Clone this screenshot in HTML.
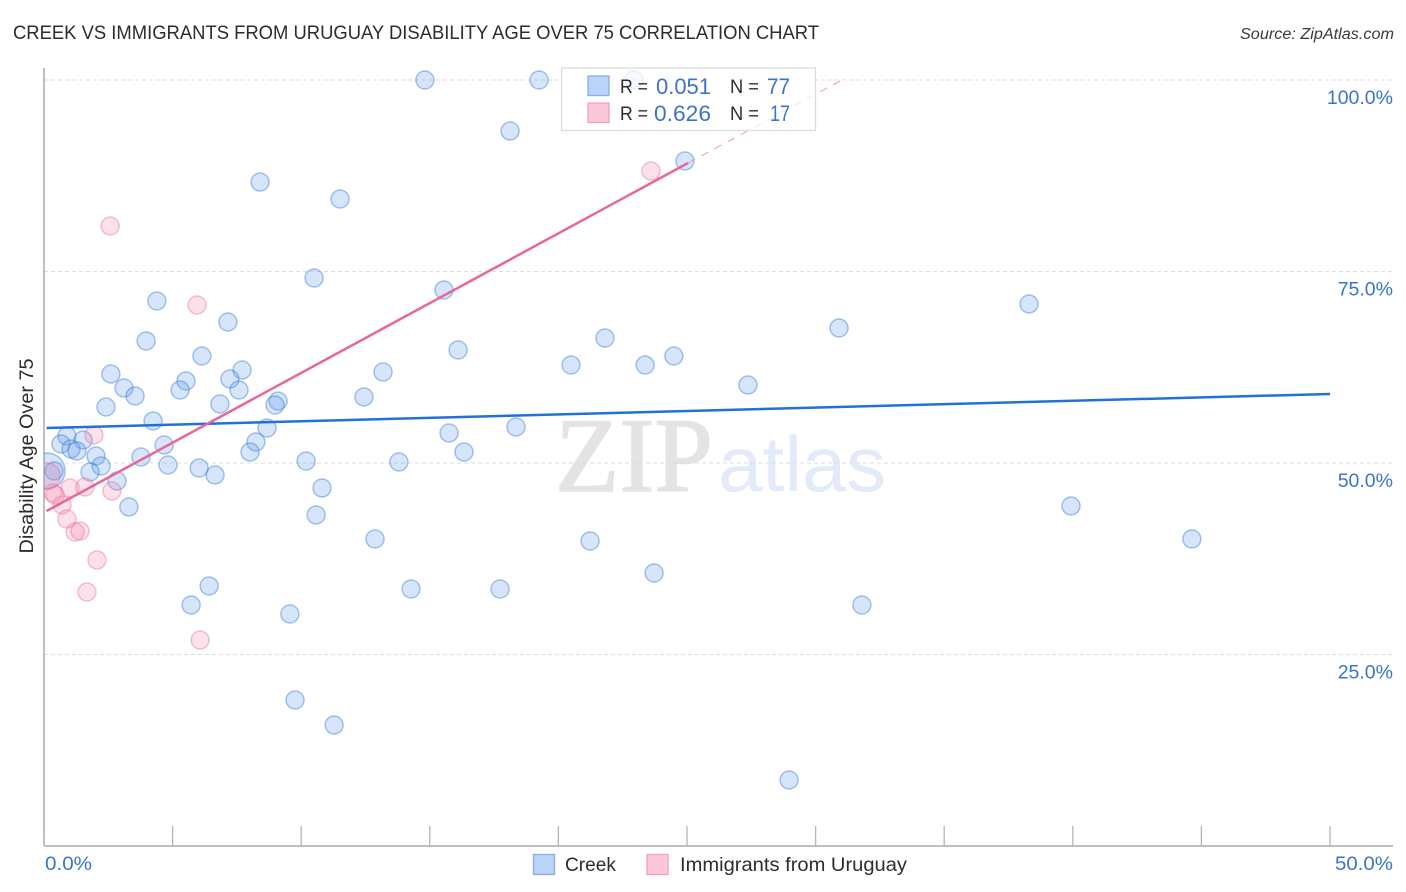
<!DOCTYPE html>
<html lang="en">
<head>
<meta charset="utf-8">
<title>Creek vs Immigrants from Uruguay Disability Age Over 75 Correlation Chart</title>
<style>
  html, body { margin: 0; padding: 0; background: #fff; }
  svg { display: block; font-family: "Liberation Sans", sans-serif; }
</style>
</head>
<body>
<svg id="chart" xmlns="http://www.w3.org/2000/svg" width="1406" height="892" viewBox="0 0 1406 892">
  <defs>
    <clipPath id="plot-clip"><rect x="44" y="60" width="1350" height="786"/></clipPath>
  </defs>
  <rect x="0" y="0" width="1406" height="892" fill="#ffffff"/>
  <text x="13" y="39" font-size="19" fill="#2c2c2c" textLength="806" lengthAdjust="spacingAndGlyphs">CREEK VS IMMIGRANTS FROM URUGUAY DISABILITY AGE OVER 75 CORRELATION CHART</text>
  <text x="1394" y="39" font-size="15.5" font-style="italic" fill="#3a3a3a" text-anchor="end" textLength="154" lengthAdjust="spacingAndGlyphs">Source: ZipAtlas.com</text>
  <g>
    <text x="555" y="491" font-family="'Liberation Serif', serif" font-size="106" fill="#e4e4e4" stroke="#e4e4e4" stroke-width="1.5" textLength="158" lengthAdjust="spacingAndGlyphs">ZIP</text>
    <text x="718" y="491" font-size="78" fill="#e2ebf9" textLength="168" lengthAdjust="spacingAndGlyphs">atlas</text>
  </g>
  <g id="grid"></g>
  <g id="axes"></g>
  <g id="points" clip-path="url(#plot-clip)"></g>
  <g id="trends"></g>
  <text transform="translate(33,456) rotate(-90)" font-size="19" fill="#2c2c2c" text-anchor="middle" textLength="195" lengthAdjust="spacingAndGlyphs">Disability Age Over 75</text>
  <g>
    <rect x="561.5" y="68" width="254" height="62.5" fill="#ffffff" fill-opacity="0.75" stroke="#dcdcdc" stroke-width="1.3"/>
    <rect x="588" y="76" width="21" height="19.5" fill="#b9d4f8" stroke="#85aee6" stroke-width="1.3"/>
    <rect x="588" y="103" width="21" height="19.5" fill="#fcc8d8" stroke="#f2a4bd" stroke-width="1.3"/>
    <text x="620" y="93" font-size="19" fill="#2c2c2c" textLength="28" lengthAdjust="spacingAndGlyphs">R =</text>
    <text x="656" y="94" font-size="22" fill="#3b73cf" textLength="55" lengthAdjust="spacingAndGlyphs">0.051</text>
    <text x="730" y="93" font-size="19" fill="#2c2c2c" textLength="29" lengthAdjust="spacingAndGlyphs">N =</text>
    <text x="767" y="94" font-size="22" fill="#3b73cf" textLength="23" lengthAdjust="spacingAndGlyphs">77</text>
    <text x="620" y="120" font-size="19" fill="#2c2c2c" textLength="28" lengthAdjust="spacingAndGlyphs">R =</text>
    <text x="654" y="121" font-size="22" fill="#3b73cf" textLength="57" lengthAdjust="spacingAndGlyphs">0.626</text>
    <text x="730" y="120" font-size="19" fill="#2c2c2c" textLength="29" lengthAdjust="spacingAndGlyphs">N =</text>
    <text x="770" y="121" font-size="22" fill="#3b73cf" textLength="20" lengthAdjust="spacingAndGlyphs">17</text>
  </g>
  <g>
    <rect x="533.5" y="854.5" width="21" height="20" fill="#b9d4f8" stroke="#85aee6" stroke-width="1.3"/>
    <text x="565" y="871" font-size="19.5" fill="#2c2c2c" textLength="51" lengthAdjust="spacingAndGlyphs">Creek</text>
    <rect x="647" y="854.5" width="21" height="20" fill="#fcc8d8" stroke="#f2a4bd" stroke-width="1.3"/>
    <text x="680" y="871" font-size="19.5" fill="#2c2c2c" textLength="227" lengthAdjust="spacingAndGlyphs">Immigrants from Uruguay</text>
  </g>
</svg>
<script>
const creekX = [14.81,19.25,22.94,18.12,24.92,8.40,11.51,10.50,15.55,38.30,30.91,4.39,7.15,21.81,3.97,16.10,6.14,24.49,20.49,23.37,7.70,13.18,2.60,7.23,5.52,3.11,5.29,7.58,3.54,27.37,12.44,6.84,9.10,8.98,2.41,4.24,18.35,8.67,15.75,0.89,0.66,1.52,4.67,8.24,1.05,1.28,2.02,8.01,16.33,3.77,10.19,13.80,4.82,2.22,1.79,6.03,6.65,2.84,10.81,0.39,3.30,39.93,10.58,12.87,21.23,44.63,23.72,6.42,14.27,17.73,5.72,31.80,9.56,9.76,11.28,28.97];
const creekY = [100,100,100,93.34,89.43,86.68,84.46,74.15,72.58,70.76,67.62,71.15,68.41,66.32,65.93,64.75,63.97,63.97,62.79,62.79,62.14,61.88,61.62,60.97,60.70,59.79,59.53,59.53,58.75,60.18,58.62,57.70,58.09,57.57,57.31,55.48,54.70,54.57,53.92,53.52,52.48,53.00,52.35,52.74,51.83,51.57,50.91,51.44,51.44,50.78,50.26,50.13,49.74,49.61,48.83,49.35,48.43,47.65,46.74,48.96,44.26,44.39,43.21,40.08,39.82,40.08,35.64,33.94,33.55,33.55,31.46,31.46,30.29,19.06,15.80,8.62];
const creekClusterX = [0.12];
const creekClusterY = [48.96];
const uruguayX = [23.60,2.57,5.95,6.07,1.94,1.01,1.59,2.64,0.35,0.43,0.70,0.89,1.21,1.40,2.06,1.67];
const uruguayY = [88.12,80.94,70.63,26.89,53.66,46.74,46.87,46.34,46.08,45.82,44.52,42.69,40.99,41.12,37.34,33.16];
const uruguayClusterX = [0.12];
const uruguayClusterY = [48.3];
const creekTrendX = [0.1,50];
const creekTrendY = [54.57,59.01];
const uruguayTrendX = [0.1,25.04];
const uruguayTrendY = [43.73,89.16];
const uruguayProjectionX = [25.04,31.03];
const uruguayProjectionY = [89.16,100];
const xTicks = [0,5,10,15,20,25,30,35,40,45,50];
const xTickLabelValues = [0,50];
const xTickLabels = ["0.0%","50.0%"];
const yGridValues = [100,75,50,25];
const yTickLabels = ["100.0%","75.0%","50.0%","25.0%"];

const NS = 'http://www.w3.org/2000/svg';
function xScale(v) { return 44 + v * 25.72; }
function yScale(v) { return 846 - v * 7.66; }
function make(tag, parent, attrs) {
  const el = document.createElementNS(NS, tag);
  for (const k in attrs) el.setAttribute(k, attrs[k]);
  parent.appendChild(el);
  return el;
}

const grid = document.getElementById('grid');
const axes = document.getElementById('axes');
const points = document.getElementById('points');
const trends = document.getElementById('trends');

yGridValues.forEach(function (v, i) {
  const line = make('line', grid, {x1: 44, x2: 1393, y1: yScale(v), y2: yScale(v), stroke: '#dddddd', 'stroke-width': 1, 'stroke-dasharray': '4 3'});
  
  
  const label = make('text', axes, {x: 1393, y: yScale(v) + 24, 'font-size': 19.5, fill: '#3b73cf', 'text-anchor': 'end'});
  
  
  label.textContent = yTickLabels[i];
});

const yAxis = make('line', axes, {x1: 44, x2: 44, y1: 68, y2: 846, stroke: '#aaaaaa', 'stroke-width': 1.5});


const xAxis = make('line', axes, {x1: 44, x2: 1393, y1: 846, y2: 846, stroke: '#aaaaaa', 'stroke-width': 1.5});



xTicks.forEach(function (v) {
  const tick = make('line', axes, {x1: xScale(v), x2: xScale(v), y1: 826, y2: 846, stroke: '#b5b5b5', 'stroke-width': 1.3});
  
  
});

xTickLabelValues.forEach(function (v, i) {
  const label = make('text', axes, {x: i === 0 ? xScale(v) + 1 : 1393, y: 870, 'font-size': 19.5, fill: '#3b73cf', 'text-anchor': i === 0 ? 'start' : 'end', textLength: i === 0 ? 47 : 58, lengthAdjust: 'spacingAndGlyphs'});
  
  
  label.textContent = xTickLabels[i];
});

const creekStyle = {fill: 'rgba(90,150,230,0.25)', stroke: 'rgba(50,120,215,0.42)', 'stroke-width': 1.5};
const uruguayStyle = {fill: 'rgba(245,130,170,0.25)', stroke: 'rgba(235,100,145,0.38)', 'stroke-width': 1.5};

function drawDots(xs, ys, r, style, name) {
  xs.forEach(function (x, i) {
    const dot = make('circle', points, Object.assign({cx: xScale(x), cy: yScale(ys[i]), r: r}, style));
    
    
  });
}

drawDots(creekClusterX, creekClusterY, 18, creekStyle, 'creek-cluster-point');
drawDots(creekX, creekY, 9, creekStyle, 'creek-point');
drawDots(uruguayClusterX, uruguayClusterY, 13, uruguayStyle, 'uruguay-cluster-point');
drawDots(uruguayX, uruguayY, 9, uruguayStyle, 'uruguay-point');

function drawLine(xs, ys, attrs, name) {
  const line = make('line', trends, Object.assign({x1: xScale(xs[0]), y1: yScale(ys[0]), x2: xScale(xs[1]), y2: yScale(ys[1])}, attrs));
  
  
}

drawLine(uruguayProjectionX, uruguayProjectionY, {stroke: '#eb9ab5', 'stroke-width': 1, 'stroke-dasharray': '8 7'}, 'uruguay-trend-projection');
drawLine(creekTrendX, creekTrendY, {stroke: '#2271d6', 'stroke-width': 2.5}, 'creek-trend-line');
drawLine(uruguayTrendX, uruguayTrendY, {stroke: '#e8669a', 'stroke-width': 2.5}, 'uruguay-trend-line');
</script>
</body>
</html>
